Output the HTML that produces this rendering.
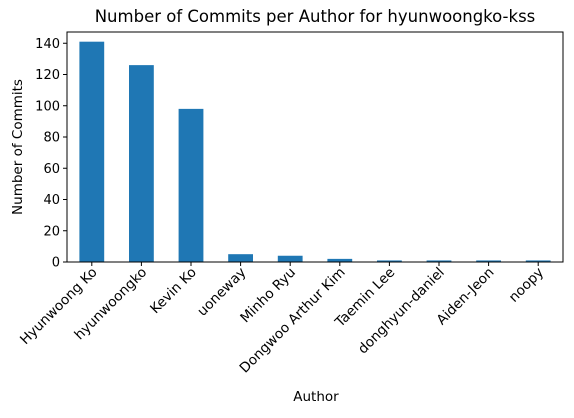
<!DOCTYPE html>
<html><head><meta charset="utf-8"><style>
body{margin:0;background:#fff;width:574px;height:413px;overflow:hidden}
text{font-family:"DejaVu Sans","Liberation Sans",sans-serif;fill:#000}
</style></head><body>
<svg id="chart" width="574" height="413" xmlns="http://www.w3.org/2000/svg">
<text x="315" y="22" text-anchor="middle" font-size="16.5">Number of Commits per Author for hyunwoongko-kss</text>
<g id="bars"></g><g id="axes"></g>
<text x="316" y="401" text-anchor="middle" font-size="13.5">Author</text>
<text transform="translate(22,147) rotate(-90)" text-anchor="middle" font-size="13.5">Number of Commits</text>
</svg>
<script>
const categories=["Hyunwoong Ko","hyunwoongko","Kevin Ko","uoneway","Minho Ryu","Dongwoo Arthur Kim","Taemin Lee","donghyun-daniel","Aiden-Jeon","noopy"];
const commits=[141,126,98,5,4,2,1,1,1,1];
const yTicks=[0,20,40,60,80,100,120,140];
const L=67,R=563,T=32,B=262,ymax=147.2;
const NS="http://www.w3.org/2000/svg";
const bw=(R-L)/categories.length;
const x=i=>L+bw*(i+0.5);
const y=v=>B-(v/ymax)*(B-T);
function mk(t,a,p){const e=document.createElementNS(NS,t);for(const k in a)e.setAttribute(k,a[k]);p.appendChild(e);return e;}
const gb=document.getElementById('bars'),ga=document.getElementById('axes');
commits.forEach((v,i)=>{
 const r=mk('rect',{x:x(i)-bw/4,y:y(v),width:bw/2,height:B-y(v),fill:'#1f77b4'},gb);
 
 
 mk('line',{x1:x(i),x2:x(i),y1:B,y2:B+4,stroke:'#000','stroke-width':1},ga);
 const t=mk('text',{transform:`translate(${x(i)+6},${B+11}) rotate(-45)`,'text-anchor':'end','font-size':13.7},ga);
 t.textContent=categories[i];
 
 
});
yTicks.forEach(v=>{
 mk('line',{x1:L-4,x2:L,y1:y(v),y2:y(v),stroke:'#000','stroke-width':1},ga);
 const t=mk('text',{x:L-7,y:y(v)+4.5,'text-anchor':'end','font-size':13},ga);
 t.textContent=v;
 
 
});
const f=mk('rect',{x:L,y:T,width:R-L,height:B-T,fill:'none',stroke:'#000','stroke-width':1},ga);


</script>
</body></html>
